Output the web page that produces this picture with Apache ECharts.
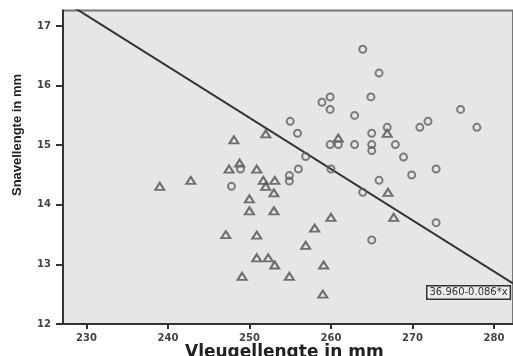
<!DOCTYPE html>
<html>
<head>
<meta charset="utf-8">
<script src="https://cdn.jsdelivr.net/npm/echarts@6/dist/echarts.min.js"></script>
<style>
  html, body { margin: 0; padding: 0; background: #fff; }
  #chart { width: 513px; height: 356px; }
</style>
</head>
<body>
<div id="chart"></div>
<script>
// triangles (group 1)
const triX = [239.0, 242.8, 248.1, 247.5, 248.8, 252.0, 250.9, 251.7, 253.1, 252.0,
  253.0, 250.0, 250.0, 253.0, 260.9, 266.9, 267.0, 267.7, 260.0, 258.0,
  247.1, 250.9, 256.9, 250.9, 252.3, 253.1, 259.1, 249.1, 254.9, 259.0];
const triY = [14.31, 14.41, 15.09, 14.60, 14.70, 15.19, 14.60, 14.41, 14.41, 14.31,
  14.20, 14.10, 13.90, 13.90, 15.12, 15.20, 14.21, 13.79, 13.79, 13.61,
  13.50, 13.49, 13.32, 13.11, 13.11, 12.99, 12.99, 12.80, 12.80, 12.50];

// circles (group 2)
const circX = [263.9, 265.9, 264.9, 259.9, 258.9, 259.9, 262.9, 275.9, 255.0, 271.9,
  270.9, 277.9, 266.9, 255.9, 265.0, 259.9, 260.9, 262.9, 265.0, 265.0,
  267.9, 256.9, 268.9, 272.9, 260.0, 256.0, 248.9, 269.9, 254.9, 254.9,
  265.9, 247.8, 263.9, 272.9, 265.0];
const circY = [16.61, 16.21, 15.81, 15.81, 15.72, 15.60, 15.50, 15.60, 15.40, 15.40,
  15.30, 15.30, 15.30, 15.20, 15.20, 15.01, 15.01, 15.01, 15.01, 14.91,
  15.01, 14.81, 14.80, 14.60, 14.60, 14.60, 14.60, 14.50, 14.49, 14.40,
  14.41, 14.31, 14.21, 13.70, 13.41];

// fit line: y = 36.960 - 0.086 * x
const fitA = 36.960;
const fitB = -0.086;
const fitLabel = '36.960-0.086*x';

const xTicks = [230, 240, 250, 260, 270, 280];
const yTicks = [12, 13, 14, 15, 16, 17];
const xMin = 227.13, xMax = 282.33;
const yMin = 12, yMax = 17.26;

const zip = (xs, ys) => xs.map((x, i) => [x, ys[i]]);
const fitLine = [xMin, xMax].map(x => [x, fitA + fitB * x]);

const chart = echarts.init(document.getElementById('chart'));

const axisCommon = {
  type: 'value',
  axisLine: { show: true, onZero: false, lineStyle: { color: '#333', width: 2 } },
  splitLine: { show: false },
  axisLabel: {
    color: '#444',
    fontFamily: 'DejaVu Sans',
    fontWeight: 'bold',
    fontSize: 10
  }
};

chart.setOption({
  animation: false,
  grid: {
    left: 63, right: 0, top: 10.5, bottom: 32,
    show: true,
    backgroundColor: '#e6e6e6',
    borderColor: '#777',
    borderWidth: 2
  },
  xAxis: {
    ...axisCommon,
    min: xMin, max: xMax,
    axisTick: { show: true, length: 5, customValues: xTicks, lineStyle: { color: '#333', width: 2 } },
    axisLabel: { ...axisCommon.axisLabel, margin: 9, customValues: xTicks }
  },
  yAxis: {
    ...axisCommon,
    min: yMin, max: yMax,
    axisTick: { show: true, length: 7, customValues: yTicks, lineStyle: { color: '#333', width: 2 } },
    axisLabel: { ...axisCommon.axisLabel, margin: 12, customValues: yTicks }
  },
  series: [
    {
      type: 'line',
      data: fitLine,
      showSymbol: false,
      clip: true,
      lineStyle: { color: '#333', width: 2 },
      z: 2
    },
    {
      type: 'scatter',
      data: zip(triX, triY),
      symbol: 'triangle',
      symbolSize: [9, 7],
      itemStyle: { color: 'transparent', borderColor: '#505050', borderWidth: 2 },
      z: 3
    },
    {
      type: 'scatter',
      data: zip(circX, circY),
      symbol: 'circle',
      symbolSize: 7,
      itemStyle: { color: 'transparent', borderColor: '#606060', borderWidth: 2 },
      z: 3
    }
  ],
  graphic: [
    {
      type: 'text',
      left: 426, top: 285,
      z: 10,
      style: {
        text: fitLabel,
        font: '10px "DejaVu Sans"',
        fill: '#333',
        backgroundColor: '#ececec',
        borderColor: '#333',
        borderWidth: 1.5,
        padding: [1, 2, 1, 2]
      }
    },
    {
      type: 'text',
      x: 17, y: 135,
      rotation: Math.PI / 2,
      style: {
        text: 'Snavellengte in mm',
        font: 'bold 13px "Liberation Sans"',
        fill: '#222',
        align: 'center',
        verticalAlign: 'middle'
      }
    },
    {
      type: 'text',
      x: 185, y: 344,
      style: {
        text: 'Vleugellengte in mm',
        font: 'bold 17px "DejaVu Sans"',
        fill: '#222',
        align: 'left',
        verticalAlign: 'top'
      }
    }
  ]
});
</script>
</body>
</html>
